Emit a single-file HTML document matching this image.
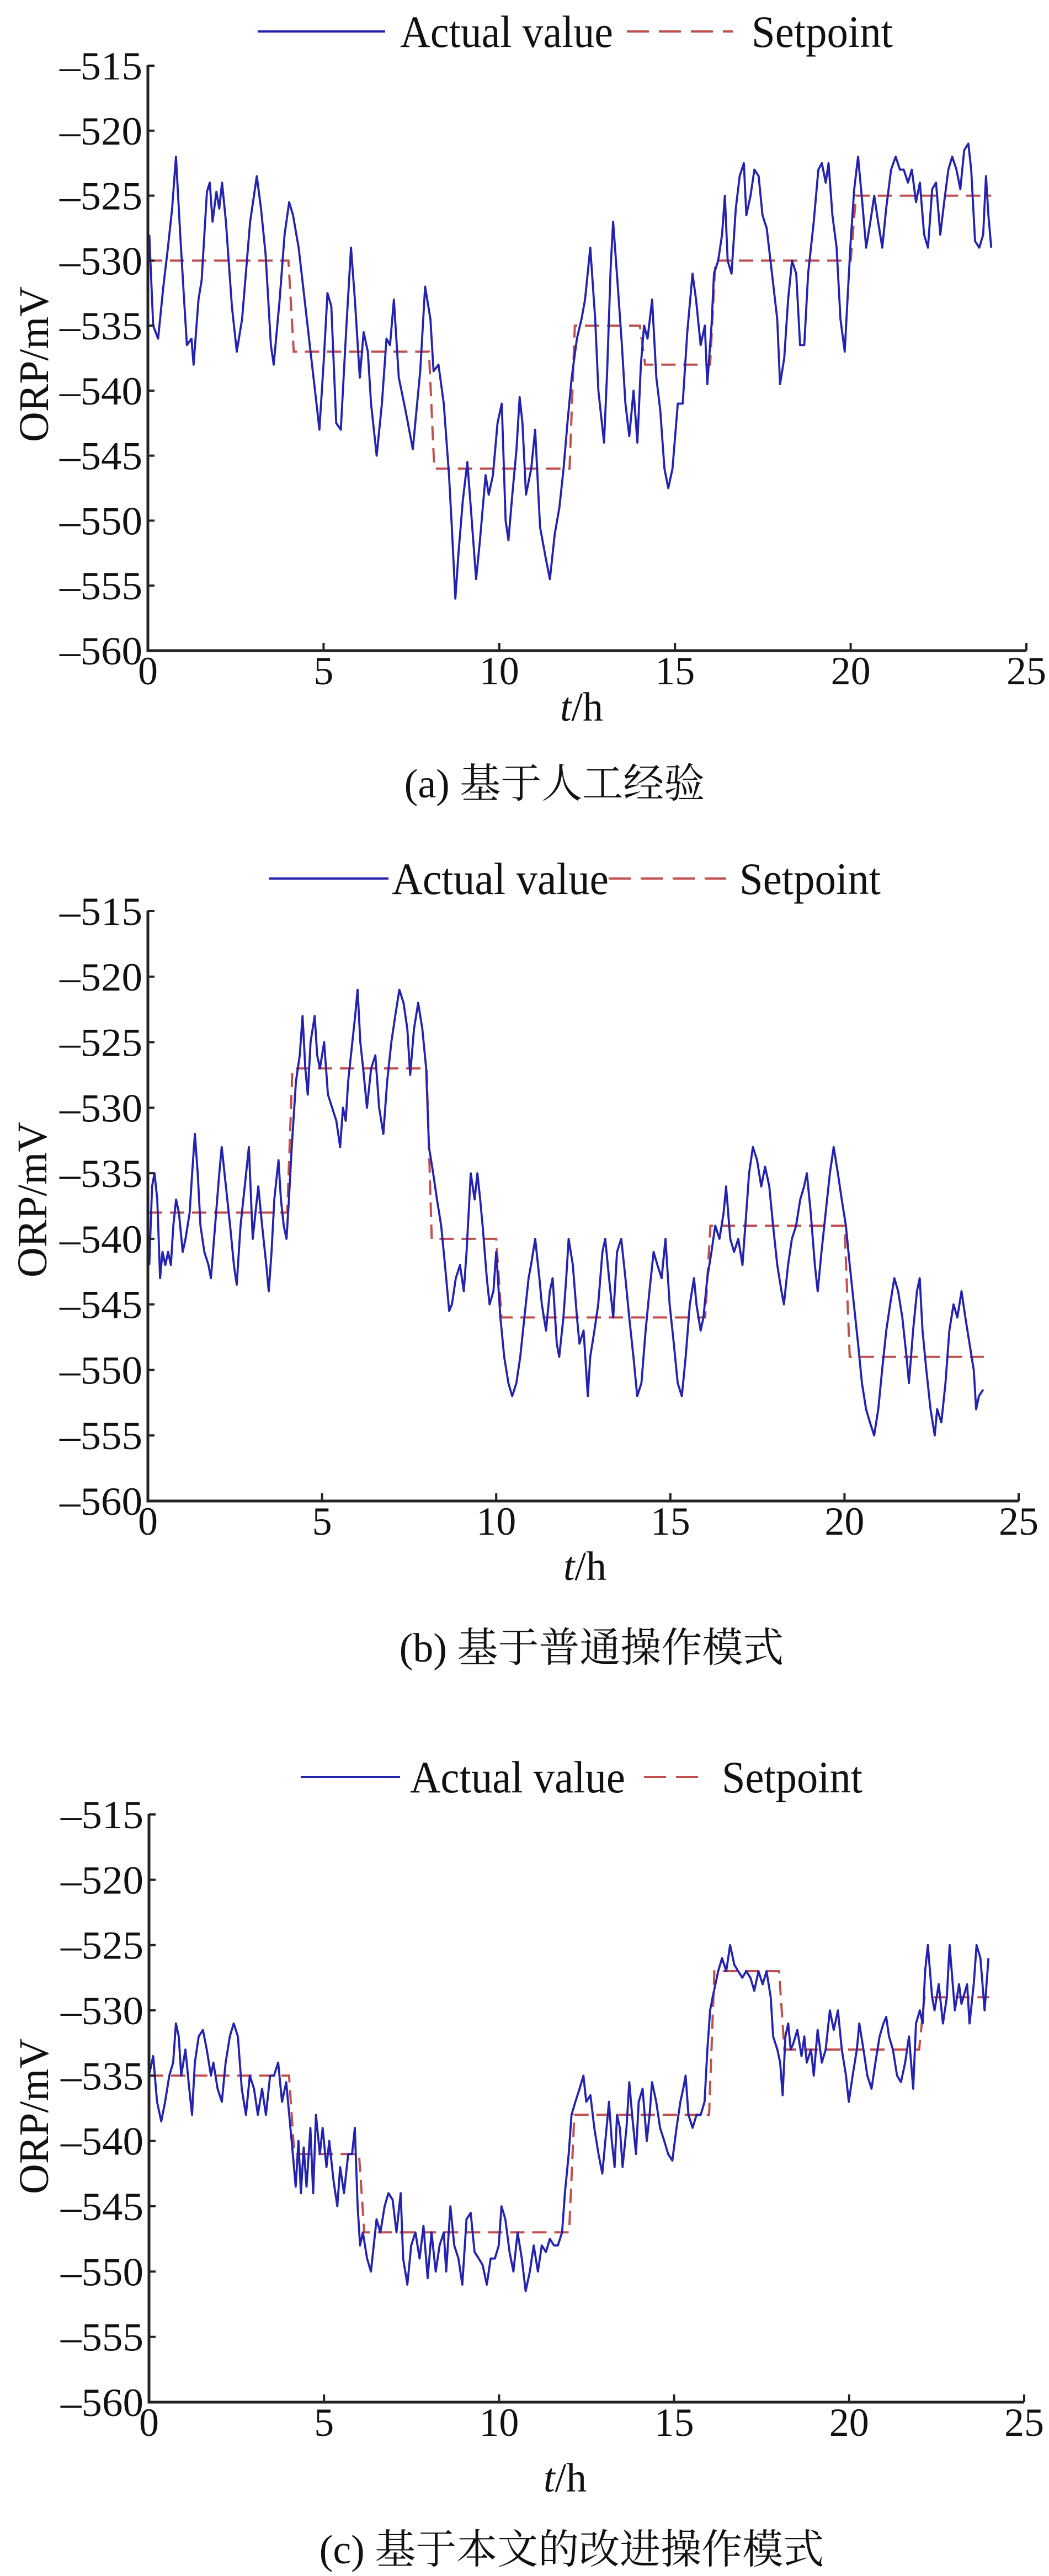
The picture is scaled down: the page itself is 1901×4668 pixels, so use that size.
<!DOCTYPE html>
<html><head><meta charset="utf-8"><title>ORP charts</title>
<style>
html,body{margin:0;padding:0;background:#fff;}
svg{display:block;}
text{font-family:"Liberation Serif","Noto Serif CJK SC",serif;fill:#111;}
</style></head>
<body>
<svg id="fig" width="1901" height="4668" viewBox="0 0 1901 4668" xmlns="http://www.w3.org/2000/svg"></svg>
<script>
// ---------- Chart (a) data ----------
const aTime = [0.04,0.15,0.29,0.44,0.57,0.69,0.80,0.92,1.03,1.11,1.24,1.30,1.44,1.53,1.68,1.76,1.84,1.95,2.03,2.11,2.22,2.39,2.53,2.68,2.91,3.10,3.22,3.35,3.50,3.58,3.75,3.89,4.02,4.13,4.29,4.46,4.65,4.82,4.88,5.01,5.11,5.22,5.36,5.49,5.65,5.78,5.89,6.03,6.14,6.26,6.35,6.51,6.66,6.79,6.89,7.00,7.14,7.33,7.54,7.75,7.89,8.04,8.13,8.27,8.42,8.57,8.65,8.75,8.84,8.96,9.09,9.19,9.34,9.45,9.61,9.70,9.82,9.95,10.07,10.18,10.26,10.37,10.49,10.58,10.66,10.76,10.91,11.02,11.16,11.33,11.44,11.58,11.71,11.83,11.94,12.06,12.21,12.34,12.44,12.59,12.73,12.82,12.98,13.07,13.17,13.24,13.36,13.49,13.59,13.70,13.82,13.93,14.03,14.12,14.22,14.35,14.47,14.58,14.70,14.81,14.93,15.08,15.22,15.35,15.50,15.60,15.73,15.85,15.92,16.04,16.11,16.23,16.34,16.42,16.50,16.61,16.73,16.84,16.96,17.03,17.15,17.26,17.38,17.49,17.61,17.76,17.91,17.99,18.11,18.22,18.33,18.45,18.56,18.68,18.79,18.95,19.08,19.18,19.29,19.37,19.48,19.60,19.71,19.83,19.90,20.00,20.10,20.21,20.33,20.44,20.56,20.67,20.78,20.90,21.01,21.15,21.28,21.40,21.51,21.63,21.74,21.86,21.97,22.09,22.20,22.32,22.43,22.55,22.66,22.78,22.89,23.01,23.12,23.23,23.35,23.43,23.54,23.66,23.77,23.85,23.92,24.00];
const aActual = [-528,-535,-536,-532,-529,-526,-522,-528,-533,-536.5,-536,-538,-533,-531.5,-524.7,-524,-527,-524.7,-526,-524,-527,-533.5,-537,-534.5,-527,-523.5,-526,-529.5,-536.5,-538,-533,-528,-525.5,-526.5,-529,-533,-537.5,-541.5,-543,-537.5,-532.5,-533.5,-542.5,-543,-535,-529,-533,-539,-535.5,-537,-541,-545,-541,-536,-536.5,-533,-539,-541.5,-544.5,-538.5,-532,-534.5,-538.5,-538,-541,-546.5,-550.5,-556,-552.5,-548.5,-545.5,-549,-554.5,-551.5,-546.5,-548,-546.5,-542.5,-541,-550,-551.5,-548,-544.5,-540.5,-542.5,-548,-546,-543,-550.5,-553,-554.5,-551,-549,-546,-542.5,-539,-536,-534.5,-533,-529,-534.5,-540,-544,-538.5,-530.5,-527,-531.5,-536.5,-541,-543.5,-540,-544,-538,-535,-536,-533,-539,-541.5,-546,-547.5,-546,-541,-541,-535.5,-531,-533,-536.5,-535,-539.5,-535,-531,-530,-528,-525,-530,-531,-526,-523.5,-522.5,-526.5,-525,-523,-523.5,-526.5,-527.5,-531,-534.5,-539.5,-537.5,-533,-530,-531,-536.5,-536.5,-531,-527,-523,-522.5,-524,-522.5,-526.5,-529,-534.5,-537,-533.5,-528.5,-524.5,-522,-525.5,-529,-527,-525,-527,-529,-526,-523,-522,-523,-523,-524,-523,-525.5,-524,-528,-529,-524.5,-524,-528,-525.5,-523,-522,-523,-524.5,-521.5,-521,-523,-528.5,-529,-528,-523.5,-526.5,-529];
const aSetStart = [0,4,8,12,14,16,20];
const aSetEnd = [4,8,12,14,16,20,24];
const aSetValue = [-530,-537,-546,-535,-538,-530,-525];

// ---------- Chart (b) data ----------
const bTime = [0.04,0.12,0.19,0.27,0.35,0.42,0.50,0.58,0.66,0.73,0.81,0.89,1.00,1.08,1.20,1.27,1.35,1.43,1.51,1.62,1.74,1.81,1.93,2.05,2.12,2.24,2.36,2.47,2.55,2.66,2.78,2.90,3.01,3.09,3.17,3.28,3.40,3.47,3.55,3.63,3.75,3.82,3.90,3.98,4.05,4.13,4.25,4.36,4.44,4.52,4.59,4.67,4.79,4.86,4.94,5.06,5.17,5.29,5.41,5.52,5.60,5.68,5.75,5.87,5.95,6.02,6.10,6.18,6.29,6.41,6.53,6.64,6.76,6.87,6.99,7.10,7.22,7.34,7.45,7.53,7.64,7.76,7.88,7.99,8.07,8.19,8.30,8.42,8.53,8.65,8.73,8.84,8.96,9.07,9.15,9.27,9.38,9.46,9.54,9.61,9.73,9.81,9.92,10.00,10.12,10.23,10.35,10.46,10.58,10.69,10.81,10.93,11.00,11.12,11.24,11.31,11.43,11.54,11.62,11.74,11.81,11.93,12.01,12.08,12.20,12.32,12.39,12.51,12.63,12.70,12.82,12.93,13.05,13.13,13.24,13.36,13.47,13.59,13.71,13.82,13.94,14.05,14.17,14.29,14.40,14.52,14.63,14.75,14.86,14.98,15.10,15.21,15.33,15.44,15.56,15.68,15.75,15.87,15.95,16.06,16.18,16.29,16.41,16.53,16.60,16.72,16.83,16.95,17.07,17.18,17.26,17.37,17.49,17.61,17.72,17.84,17.95,18.07,18.19,18.26,18.38,18.49,18.61,18.73,18.84,18.92,19.03,19.15,19.23,19.34,19.46,19.58,19.69,19.81,19.92,20.04,20.15,20.27,20.39,20.50,20.62,20.73,20.85,20.97,21.08,21.20,21.31,21.43,21.54,21.66,21.78,21.85,21.97,22.08,22.16,22.24,22.35,22.47,22.59,22.66,22.78,22.90,23.01,23.13,23.24,23.36,23.47,23.59,23.71,23.78,23.86,23.98];
const bActual = [-542,-536,-535,-537,-543,-541,-542,-541,-542,-539,-537,-538,-541,-540,-538,-535,-532,-535,-539,-541,-542,-543,-539,-535,-533,-536,-539,-542,-543.5,-539,-536,-533,-540,-538,-536,-539,-542,-544,-541,-537,-534,-537,-539,-540,-537,-533,-528,-526,-523,-527,-529,-525,-523,-526,-527,-525,-529,-530,-531,-533,-530,-531,-528,-525,-523,-521,-525,-527,-530,-527,-526,-530,-532,-528,-525,-523,-521,-522,-524,-527.5,-524,-522,-524,-527,-533,-535,-537,-539,-542,-545.5,-545,-543,-542,-544,-541,-535,-537,-535,-537,-539,-543,-545,-544,-541,-546,-549,-551,-552,-551,-549,-546,-543,-542,-540,-543,-545,-547,-544,-543,-548,-549,-546,-543,-540,-542,-546,-548,-547,-552,-549,-547,-545,-541,-540,-543,-546,-541,-540,-543,-546,-549,-552,-551,-547,-544,-541,-542,-543,-540,-545,-548,-551,-552,-549,-545,-543,-545,-547,-546,-543,-541,-539,-540,-538,-536,-540,-541,-540,-542,-538,-535,-533,-534,-536,-534.5,-536,-539,-542,-544,-545,-542,-540,-539,-537,-536,-535,-538,-542,-544,-541,-538,-535,-533,-535,-537,-539,-542,-545,-548,-551,-553,-554,-555,-553,-550,-547,-545,-543,-544,-546,-549,-551,-547,-544,-543,-547,-550,-553,-555,-553,-554,-551,-547,-545,-546,-544,-546,-548,-550,-553,-552,-551.5];
const bSetStart = [0,4,8,10,16,20];
const bSetEnd = [4,8,10,16,20,24];
const bSetValue = [-538,-527,-540,-546,-539,-549];

// ---------- Chart (c) data ----------
const cTime = [0,0.12,0.23,0.35,0.46,0.58,0.69,0.77,0.85,0.92,1.04,1.15,1.23,1.31,1.42,1.54,1.65,1.77,1.84,1.96,2.08,2.19,2.31,2.42,2.54,2.65,2.77,2.88,3.00,3.11,3.23,3.34,3.46,3.57,3.69,3.80,3.92,4.04,4.11,4.19,4.27,4.34,4.42,4.50,4.61,4.69,4.77,4.88,4.96,5.07,5.15,5.27,5.38,5.46,5.57,5.69,5.80,5.88,5.96,6.03,6.11,6.23,6.34,6.42,6.50,6.61,6.73,6.84,6.96,7.07,7.19,7.26,7.38,7.49,7.61,7.73,7.84,7.96,8.07,8.19,8.30,8.42,8.49,8.61,8.72,8.84,8.95,9.07,9.19,9.30,9.42,9.53,9.65,9.76,9.88,9.99,10.07,10.18,10.30,10.41,10.53,10.65,10.76,10.88,10.99,11.11,11.22,11.34,11.45,11.57,11.68,11.80,11.88,11.99,12.07,12.18,12.30,12.41,12.49,12.61,12.72,12.84,12.95,13.07,13.14,13.22,13.30,13.37,13.45,13.53,13.64,13.72,13.80,13.91,13.99,14.10,14.22,14.30,14.37,14.49,14.60,14.72,14.83,14.95,15.07,15.18,15.26,15.33,15.41,15.53,15.64,15.76,15.87,15.95,16.03,16.10,16.18,16.26,16.37,16.49,16.60,16.72,16.83,16.95,17.06,17.18,17.29,17.41,17.53,17.64,17.76,17.83,17.95,18.03,18.10,18.18,18.26,18.33,18.41,18.52,18.64,18.72,18.79,18.91,18.99,19.10,19.22,19.33,19.45,19.56,19.68,19.79,19.91,19.99,20.10,20.22,20.29,20.41,20.52,20.64,20.75,20.87,20.98,21.06,21.14,21.25,21.37,21.48,21.60,21.71,21.83,21.91,22.02,22.10,22.17,22.25,22.37,22.44,22.56,22.68,22.79,22.87,23.02,23.14,23.21,23.37,23.44,23.56,23.64,23.75,23.87,23.98];
const cActual = [-535,-533.5,-537,-538.5,-537,-535,-534,-531,-532,-535,-533,-536,-538,-534,-532,-531.5,-533,-535,-534,-536,-537,-534,-532,-531,-532,-536,-538,-535,-536,-538,-536,-538,-535,-535,-534,-537,-535.5,-539,-541,-543.5,-540,-544,-540.5,-543.5,-539,-544,-538,-541,-539,-542,-540,-543,-545,-542,-544,-541,-541,-539,-545,-548,-547,-549,-550,-548,-546,-547,-545,-544,-544.5,-547,-544,-549,-551,-548,-547,-549,-546.5,-550.5,-547,-550,-548,-547,-550,-545,-548,-549,-551,-546,-545.5,-548.5,-549,-549.5,-551,-549,-549,-548,-545,-546,-548.5,-550,-547,-549,-551.5,-550,-548,-550,-548,-548.5,-547.5,-548,-548,-547,-544,-541,-538,-537,-536,-535,-537,-536.5,-539,-541,-542.5,-539,-537,-540,-542,-538,-539,-542,-539,-535.5,-538,-541,-537,-536,-540,-538,-535.5,-537,-539,-540,-541,-541.5,-539,-537,-536,-535,-538,-539,-538,-538,-537,-533,-530,-529,-528,-527,-526,-527,-525,-526.5,-527,-527.5,-527,-527.5,-528.5,-527,-528,-527,-529,-532,-533,-534,-536.5,-532,-531,-533,-532.5,-531.5,-533.5,-532,-534,-533,-535,-531.5,-534,-533,-530,-531.5,-530,-533,-535,-537,-535,-533,-531,-533,-535,-536,-534,-532,-531,-530.5,-532,-533,-535,-535.5,-534,-532,-536,-531,-530,-531,-527,-525,-529,-530,-528,-531,-529,-525,-530,-528,-529.5,-528,-531,-528,-525,-526,-530,-526];
const cSetStart = [0,4,6,12,16,18,22];
const cSetEnd = [4,6,12,16,18,22,24];
const cSetValue = [-535,-541,-547,-538,-527,-533,-529];

const yTickValues = [-515,-520,-525,-530,-535,-540,-545,-550,-555,-560];
const xTickValues = [0,5,10,15,20,25];

const NS = 'http://www.w3.org/2000/svg';
const svg = document.getElementById('fig');
function mk(tag, attrs, parent) {
  const e = document.createElementNS(NS, tag);
  for (const k in attrs) e.setAttribute(k, attrs[k]);
  (parent || svg).appendChild(e);
  return e;
}

const panels = [
  {id:'a', x0:268, x1:1860, yT:119, yB:1179, legY:57, l1:[467,698], t1:[725,386], l2:[1136,1328], t2:[1362,256], xlabY:1306, xlabX:1054, capY:1445, capX:1005, ylab:[61,660], caption:'(a) 基于人工经验', time:aTime, actual:aActual, ss:aSetStart, se:aSetEnd, sv:aSetValue},
  {id:'b', x0:268, x1:1846, yT:1651, yB:2720, legY:1592, l1:[487,704], t1:[710,393], l2:[1103,1316], t2:[1340,256], xlabY:2863, xlabX:1060, capY:3011, capX:1072, ylab:[58,2174], caption:'(b) 基于普通操作模式', time:bTime, actual:bActual, ss:bSetStart, se:bSetEnd, sv:bSetValue},
  {id:'c', x0:270, x1:1856, yT:3288, yB:4353, legY:3220, l1:[545,725], t1:[743,390], l2:[1167,1280], t2:[1308,255], xlabY:4515, xlabX:1024, capY:4645, capX:1036, ylab:[61,3835], caption:'(c) 基于本文的改进操作模式', time:cTime, actual:cActual, ss:cSetStart, se:cSetEnd, sv:cSetValue}
];

panels.forEach(p => {
  const g = mk('g', {});
  
  
  const xs = t => p.x0 + (t / 25) * (p.x1 - p.x0);
  const ys = v => p.yT + ((-515 - v) / 45) * (p.yB - p.yT);

  let d = '';
  for (let i = 0; i < p.sv.length; i++) {
    const a = xs(p.ss[i] + (i > 0 ? 0.15 : 0)), b = xs(p.se[i]);
    d += (i === 0 ? 'M' : 'L') + a.toFixed(1) + ',' + ys(p.sv[i]).toFixed(1) + 'L' + b.toFixed(1) + ',' + ys(p.sv[i]).toFixed(1);
  }
  const sp = mk('path', {d:d, fill:'none', stroke:'#c0504d', 'stroke-width':4, 'stroke-dasharray':'26,14'}, g);
  
  

  let d2 = '';
  for (let i = 0; i < p.time.length; i++) {
    d2 += (i === 0 ? 'M' : 'L') + xs(p.time[i]).toFixed(1) + ',' + ys(p.actual[i]).toFixed(1);
  }
  const ac = mk('path', {d:d2, fill:'none', stroke:'#2323b0', 'stroke-width':3.8, 'stroke-linejoin':'round'}, g);
  
  

  const ax = mk('path', {d:'M' + p.x0 + ',' + (p.yT - 1) + 'L' + p.x0 + ',' + p.yB + 'L' + p.x1 + ',' + p.yB, fill:'none', stroke:'#222', 'stroke-width':5}, g);
  
  

  yTickValues.forEach(v => {
    const y = ys(v);
    const tk = mk('line', {x1:p.x0, x2:p.x0 + 12, y1:y, y2:y, stroke:'#222', 'stroke-width':4}, g);
    
    
    const tx = mk('text', {x:p.x0 - 10, y:y + 25, 'font-size':72, 'text-anchor':'end', textLength:150, lengthAdjust:'spacingAndGlyphs'}, g);
    tx.textContent = '\u2013' + Math.abs(v);
    
    
  });
  xTickValues.forEach(t => {
    const x = xs(t);
    const tk = mk('line', {x1:x, x2:x, y1:p.yB, y2:p.yB - 14, stroke:'#222', 'stroke-width':4}, g);
    
    
    const tx = mk('text', {x:x, y:p.yB + 61, 'font-size':72, 'text-anchor':'middle'}, g);
    tx.textContent = String(t);
    
    
  });

  const xl = mk('text', {x:p.xlabX, y:p.xlabY, 'font-size':74, 'text-anchor':'middle'}, g);
  xl.innerHTML = '<tspan font-style="italic">t</tspan>/h';
  
  
  const yl = mk('text', {x:0, y:0, 'font-size':76, 'text-anchor':'middle', textLength:282, lengthAdjust:'spacingAndGlyphs', transform:'translate(' + (p.ylab[0] + 26) + ',' + p.ylab[1] + ') rotate(-90)'}, g);
  yl.textContent = 'ORP/mV';
  
  

  const lg = mk('g', {}, g);
  
  
  const ll1 = mk('line', {x1:p.l1[0], x2:p.l1[1], y1:p.legY, y2:p.legY, stroke:'#2323b0', 'stroke-width':4}, lg);
  
  
  const lt1 = mk('text', {x:p.t1[0], y:p.legY + 28, 'font-size':82, textLength:p.t1[1], lengthAdjust:'spacingAndGlyphs'}, lg);
  lt1.textContent = 'Actual value';
  
  
  const ll2 = mk('line', {x1:p.l2[0], x2:p.l2[1], y1:p.legY, y2:p.legY, stroke:'#c0504d', 'stroke-width':4, 'stroke-dasharray':'40,18'}, lg);
  
  
  const lt2 = mk('text', {x:p.t2[0], y:p.legY + 28, 'font-size':82, textLength:p.t2[1], lengthAdjust:'spacingAndGlyphs'}, lg);
  lt2.textContent = 'Setpoint';
  
  

  const cp = mk('text', {x:p.capX, y:p.capY, 'font-size':74, 'text-anchor':'middle'}, g);
  cp.textContent = p.caption;
  
  
});
</script>
</body></html>
